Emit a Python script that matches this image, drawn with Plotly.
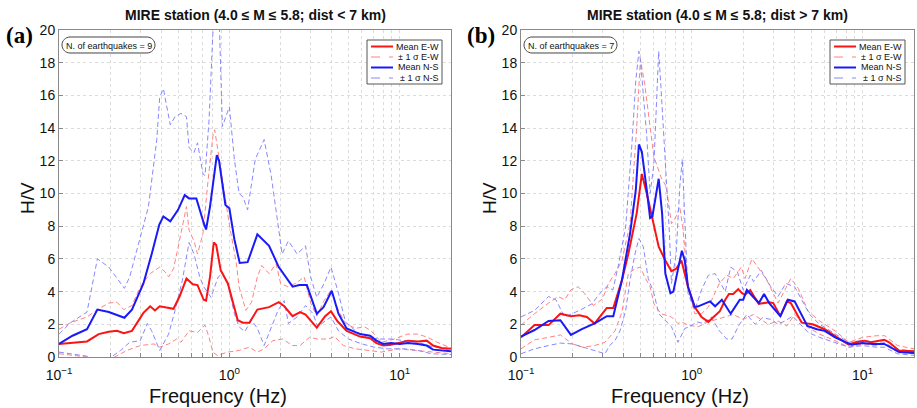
import plotly.graph_objects as go

W, H = 917, 408

# ---------------- data: panel (a) dist < 7 km ----------------
a_ew_mean_f = [0.1, 0.146, 0.171, 0.196, 0.219, 0.24, 0.268, 0.313, 0.343, 0.366, 0.39, 0.42, 0.47, 0.51, 0.56, 0.61, 0.65, 0.707, 0.73, 0.77, 0.81, 0.837, 0.89, 0.98, 1.05, 1.12, 1.2, 1.31, 1.46, 1.71, 1.95, 2.1, 2.35, 2.6, 2.8, 3.26, 3.65, 3.95, 4.3, 4.88, 5.85, 6.7, 7.3, 8.0, 8.9, 10, 11.2, 12.8, 14.4, 15.7, 17.6, 20]
a_ew_mean_v = [0.8, 0.95, 1.4, 1.55, 1.6, 1.45, 1.6, 2.7, 3.1, 2.85, 3.1, 3.05, 2.95, 3.7, 4.8, 4.45, 4.4, 3.5, 3.45, 4.9, 7.0, 6.85, 5.3, 4.5, 3.3, 2.25, 2.1, 2.1, 2.9, 3.05, 3.35, 3.1, 2.5, 2.75, 2.6, 1.8, 2.5, 2.8, 2.2, 1.6, 1.25, 1.15, 0.85, 0.7, 0.75, 0.9, 1.0, 0.95, 1.0, 0.7, 0.55, 0.5]

a_ns_mean_f = [0.1, 0.12, 0.146, 0.168, 0.196, 0.242, 0.268, 0.313, 0.35, 0.388, 0.41, 0.45, 0.5, 0.547, 0.58, 0.64, 0.707, 0.73, 0.77, 0.844, 0.87, 0.948, 1.0, 1.07, 1.15, 1.28, 1.46, 1.71, 1.95, 2.13, 2.35, 2.58, 2.85, 3.26, 3.57, 3.99, 4.37, 4.88, 5.85, 6.7, 7.3, 8.0, 8.9, 10, 11.2, 12.8, 14.4, 15.7, 17.6, 20]
a_ns_mean_v = [0.8, 1.3, 1.7, 2.9, 2.75, 2.4, 2.9, 4.5, 6.3, 8.1, 8.6, 8.3, 9.0, 9.9, 9.7, 9.7, 8.2, 7.8, 9.2, 12.35, 12.0, 9.3, 9.1, 7.2, 5.75, 5.8, 7.5, 6.8, 5.5, 4.9, 4.3, 4.4, 4.4, 2.65, 3.05, 4.05, 2.65, 1.75, 1.4, 1.3, 1.0, 0.8, 0.85, 0.8, 0.85, 0.8, 0.7, 0.45, 0.4, 0.35]

a_ew_up_f = [0.1, 0.117, 0.146, 0.171, 0.196, 0.219, 0.24, 0.268, 0.3, 0.343, 0.39, 0.42, 0.44, 0.47, 0.5, 0.547, 0.56, 0.58, 0.62, 0.65, 0.7, 0.75, 0.8, 0.82, 0.85, 0.91, 1.0, 1.1, 1.14, 1.25, 1.35, 1.46, 1.55, 1.71, 1.88, 2.0, 2.2, 2.45, 2.75, 3.0, 3.26, 3.6, 3.95, 4.37, 4.8, 5.5, 6.2, 6.8, 7.8, 9.3, 11.1, 12.8, 14.6, 16.6, 20]
a_ew_up_v = [1.7, 2.1, 2.45, 2.95, 3.3, 3.35, 2.9, 3.15, 4.3, 5.1, 5.5, 5.2, 4.9, 5.4, 6.7, 8.8, 9.2, 7.75, 7.1, 6.3, 7.55, 10.8, 13.5, 13.9, 12.8, 10.8, 8.1, 5.7, 4.3, 2.85, 3.35, 4.9, 5.6, 5.1, 5.7, 4.5, 4.3, 4.5, 4.9, 3.3, 2.5, 3.45, 4.1, 2.85, 2.05, 1.75, 1.85, 1.6, 0.9, 1.1, 1.4, 1.4, 1.2, 0.9, 0.55]

a_ew_lo_f = [0.1, 0.146, 0.175, 0.2, 0.25, 0.3, 0.36, 0.39, 0.44, 0.49, 0.52, 0.58, 0.65, 0.72, 0.76, 0.8, 0.85, 0.98, 1.14, 1.31, 1.46, 1.6, 1.8, 2.05, 2.35, 2.6, 2.95, 3.3, 3.8, 4.15, 4.67, 5.5, 6.6, 7.8, 9.8, 12.2, 15.3, 20]
a_ew_lo_v = [0.2, 0.0, -0.2, -0.15, 0.4, 0.7, 0.8, 0.6, 0.8, 1.1, 0.9, 1.6, 1.5, 1.95, 1.2, 0.3, 0.1, 0.3, 0.4, 0.6, 0.3, 0.5, 1.0, 1.1, 0.7, 0.7, 1.2, 1.1, 1.1, 1.25, 0.7, 0.5, 0.4, 0.3, 0.5, 0.4, 0.3, 0.2]

a_ns_up_f = [0.1, 0.117, 0.146, 0.168, 0.196, 0.242, 0.26, 0.29, 0.335, 0.375, 0.39, 0.41, 0.45, 0.48, 0.52, 0.56, 0.58, 0.62, 0.65, 0.7, 0.72, 0.76, 0.8, 0.83, 0.87, 0.91, 0.95, 1.0, 1.07, 1.14, 1.2, 1.28, 1.42, 1.6, 1.76, 1.93, 2.04, 2.22, 2.5, 2.8, 3.0, 3.26, 3.6, 3.95, 4.37, 4.8, 5.5, 6.4, 7.5, 8.9, 10.6, 12.8, 15.3, 20]
a_ns_up_v = [1.4, 2.1, 2.75, 6.0, 5.5, 4.2, 4.9, 6.7, 9.2, 13.3, 15.9, 16.4, 14.2, 14.7, 14.9, 14.7, 12.8, 12.5, 13.1, 11.2, 11.1, 14.5, 19.8, 21.0, 21.0, 14.1, 14.7, 15.3, 12.1, 10.0, 9.8, 9.0, 12.1, 13.3, 11.1, 8.0, 6.3, 7.1, 6.3, 6.8, 4.9, 3.65, 4.5, 5.5, 3.9, 2.15, 1.6, 1.2, 1.1, 1.1, 1.0, 0.9, 0.65, 0.45]

a_ns_lo_f = [0.1, 0.117, 0.146, 0.168, 0.196, 0.23, 0.26, 0.3, 0.33, 0.35, 0.39, 0.44, 0.48, 0.53, 0.58, 0.62, 0.67, 0.707, 0.78, 0.86, 0.91, 0.98, 1.07, 1.14, 1.23, 1.35, 1.46, 1.6, 1.76, 1.93, 2.1, 2.22, 2.5, 2.8, 3.1, 3.3, 3.6, 3.95, 4.37, 5.0, 6.0, 7.1, 8.5, 10.6, 12.8, 15.3, 20]
a_ns_lo_v = [0.3, 0.2, 0.05, -0.2, -0.1, 0.4, 0.9, 1.0, 2.05, 1.6, 0.4, 1.4, 2.85, 4.7, 7.0, 6.3, 4.9, 4.3, 3.65, 4.9, 5.1, 4.5, 2.65, 1.85, 1.55, 2.25, 1.75, 0.7, 1.85, 2.85, 3.45, 2.05, 2.45, 3.15, 2.65, 1.85, 2.15, 2.45, 1.6, 1.1, 0.8, 0.6, 0.5, 0.5, 0.4, 0.2, 0.15]

# ---------------- data: panel (b) dist > 7 km ----------------
b_ew_mean_f = [0.1, 0.12, 0.145, 0.17, 0.196, 0.22, 0.243, 0.27, 0.318, 0.347, 0.39, 0.425, 0.476, 0.51, 0.545, 0.588, 0.64, 0.7, 0.76, 0.81, 0.87, 0.95, 1.04, 1.14, 1.25, 1.46, 1.57, 1.65, 1.75, 1.87, 1.97, 2.05, 2.2, 2.35, 2.47, 2.84, 3.0, 3.3, 3.6, 3.8, 4.4, 5.1, 6.0, 7.1, 8.3, 9.1, 10.2, 11.2, 12.3, 13.4, 14.3, 16.3, 20]
b_ew_mean_v = [1.2, 1.95, 1.95, 2.65, 2.5, 2.55, 2.45, 2.05, 3.0, 3.0, 4.7, 6.3, 8.8, 11.2, 10.0, 8.4, 6.75, 5.9, 5.25, 5.4, 5.9, 4.3, 3.05, 2.45, 2.15, 2.8, 3.5, 3.85, 3.85, 4.15, 3.9, 3.8, 4.1, 3.6, 3.25, 3.35, 3.3, 2.5, 3.4, 3.3, 2.1, 2.0, 1.7, 1.2, 0.75, 0.9, 1.0, 0.9, 1.0, 1.05, 0.9, 0.4, 0.35]

b_ns_mean_f = [0.1, 0.12, 0.145, 0.17, 0.196, 0.227, 0.27, 0.318, 0.347, 0.39, 0.435, 0.47, 0.49, 0.51, 0.545, 0.57, 0.588, 0.64, 0.67, 0.7, 0.75, 0.78, 0.835, 0.875, 0.91, 0.95, 1.04, 1.09, 1.28, 1.37, 1.5, 1.69, 1.91, 2.0, 2.1, 2.47, 2.65, 2.84, 3.3, 3.65, 4.0, 4.5, 4.75, 5.4, 6.0, 6.9, 7.9, 8.6, 10, 11.4, 13.4, 15, 16.4, 20]
b_ns_mean_v = [1.25, 1.65, 2.2, 2.25, 1.35, 1.7, 2.05, 2.5, 2.5, 4.7, 7.55, 10.2, 13.0, 12.55, 10.2, 8.5, 8.6, 10.9, 8.8, 5.1, 3.9, 4.0, 5.5, 6.5, 5.9, 4.3, 3.05, 3.1, 3.4, 3.1, 3.5, 2.65, 3.5, 3.5, 4.1, 3.3, 3.85, 3.3, 2.5, 3.5, 3.4, 2.3, 1.9, 1.7, 1.6, 1.2, 0.9, 0.75, 0.85, 0.8, 0.8, 0.5, 0.3, 0.25]

b_ew_up_f = [0.1, 0.12, 0.145, 0.165, 0.18, 0.196, 0.216, 0.235, 0.265, 0.3, 0.325, 0.355, 0.39, 0.435, 0.476, 0.5, 0.53, 0.57, 0.6, 0.66, 0.71, 0.76, 0.81, 0.85, 0.89, 0.95, 1.04, 1.14, 1.25, 1.45, 1.6, 1.75, 1.95, 2.05, 2.25, 2.55, 2.75, 3.2, 3.8, 4.2, 4.8, 5.6, 6.9, 8.3, 10, 12, 13.5, 16, 20]
b_ew_up_v = [1.95, 2.65, 3.3, 3.7, 3.5, 4.1, 4.3, 3.9, 3.15, 3.55, 4.5, 5.1, 5.9, 8.15, 14.1, 18.2, 16.7, 13.9, 12.25, 11.0, 10.4, 8.15, 8.6, 9.2, 7.75, 4.3, 2.65, 2.65, 3.05, 4.5, 5.0, 4.8, 5.5, 4.8, 6.0, 5.2, 4.7, 3.3, 4.8, 4.2, 2.8, 2.2, 1.6, 0.9, 1.2, 1.3, 1.3, 0.7, 0.5]

b_ew_lo_f = [0.1, 0.12, 0.145, 0.17, 0.2, 0.23, 0.27, 0.31, 0.355, 0.39, 0.425, 0.465, 0.5, 0.53, 0.57, 0.6, 0.66, 0.76, 0.83, 0.87, 0.95, 1.09, 1.25, 1.5, 1.75, 2.0, 2.3, 2.8, 3.2, 3.6, 4.0, 4.8, 5.6, 6.9, 8.3, 10, 12, 13.4, 16, 20]
b_ew_lo_v = [0.5, 1.05, 1.2, 1.35, 0.8, 0.6, 0.7, 0.9, 1.6, 2.75, 5.1, 5.4, 5.5, 4.9, 4.3, 3.25, 2.65, 2.45, 2.05, 2.15, 1.95, 1.85, 2.15, 2.4, 2.6, 2.3, 2.6, 2.0, 2.2, 1.9, 2.6, 1.8, 1.4, 1.0, 0.6, 0.8, 0.7, 0.8, 0.3, 0.2]

b_ns_up_f = [0.1, 0.12, 0.145, 0.16, 0.18, 0.2, 0.22, 0.26, 0.29, 0.318, 0.345, 0.37, 0.41, 0.445, 0.47, 0.49, 0.5, 0.545, 0.57, 0.6, 0.62, 0.64, 0.66, 0.7, 0.74, 0.76, 0.81, 0.85, 0.88, 0.91, 0.95, 1.04, 1.14, 1.25, 1.37, 1.57, 1.69, 1.85, 2.0, 2.2, 2.3, 2.55, 2.9, 3.2, 3.55, 4.0, 4.9, 5.6, 6.9, 8.3, 10, 11.9, 13.4, 15.5, 20]
b_ns_up_v = [2.45, 2.85, 3.7, 3.5, 2.45, 2.65, 2.85, 3.25, 3.9, 4.3, 4.1, 5.5, 7.95, 12.85, 16.9, 18.7, 18.2, 13.5, 10.0, 11.8, 15.9, 18.7, 16.5, 12.0, 7.55, 4.5, 6.3, 10.4, 12.1, 8.4, 3.9, 2.85, 4.1, 5.0, 5.1, 4.0, 5.5, 5.2, 4.1, 5.0, 4.6, 5.3, 4.3, 3.7, 4.5, 4.3, 2.6, 2.0, 1.4, 0.9, 1.0, 0.95, 0.9, 0.5, 0.35]

b_ns_lo_f = [0.1, 0.12, 0.145, 0.17, 0.2, 0.25, 0.29, 0.31, 0.33, 0.355, 0.38, 0.41, 0.435, 0.465, 0.49, 0.52, 0.556, 0.6, 0.64, 0.7, 0.76, 0.83, 0.87, 0.91, 0.97, 1.07, 1.17, 1.3, 1.45, 1.6, 1.72, 1.9, 2.1, 2.35, 2.6, 2.9, 3.2, 3.5, 3.9, 4.8, 5.6, 6.9, 8.3, 10, 12, 13.4, 16, 20]
b_ns_lo_v = [0.2, 0.5, 0.7, 0.85, 0.8, 0.5, 0.3, 0.2, 0.7, 1.0, 1.6, 2.85, 4.7, 6.3, 7.25, 6.75, 4.8, 3.9, 2.65, 2.25, 1.85, 0.9, 1.3, 1.75, 1.85, 2.15, 2.05, 2.45, 1.6, 1.1, 1.1, 2.0, 2.6, 2.0, 2.4, 2.3, 2.0, 2.2, 2.5, 1.5, 1.2, 0.9, 0.6, 0.7, 0.6, 0.6, 0.2, 0.1]

titles = ["MIRE station (4.0 \u2264 M \u2264 5.8; dist < 7 km)",
          "MIRE station (4.0 \u2264 M \u2264 5.8; dist > 7 km)"]
panel_tags = ["(a)", "(b)"]
n_quakes = [9, 7]
legend_names = ["Mean E-W", "\u00b1 1 \u03c3 E-W", "Mean N-S", "\u00b1 1 \u03c3 N-S"]

x_tickvals = [0.1, 0.2, 0.3, 0.4, 0.5, 0.6, 0.7, 0.8, 0.9, 1, 2, 3, 4, 5, 6, 7, 8, 9, 10, 20]
x_ticktext = ["10<sup>\u22121</sup>"] + [""] * 8 + ["10<sup>0</sup>"] + [""] * 8 + ["10<sup>1</sup>", ""]
y_tickvals = [0, 2, 4, 6, 8, 10, 12, 14, 16, 18, 20]

# ---------------- styling ----------------
RED = "rgb(250,20,20)"
BLUE = "rgb(25,25,250)"
RED_L = "rgb(255,130,130)"
BLUE_L = "rgb(135,135,255)"
FONT = "Liberation Sans, Arial, Helvetica, sans-serif"

def px(x):
    return x / W

def py(y):
    return 1 - y / H

panels = [
    dict(x0=59, x1=451, xa="x", ya="y",
         ew=(a_ew_mean_f, a_ew_mean_v), ns=(a_ns_mean_f, a_ns_mean_v),
         ewu=(a_ew_up_f, a_ew_up_v), ewl=(a_ew_lo_f, a_ew_lo_v),
         nsu=(a_ns_up_f, a_ns_up_v), nsl=(a_ns_lo_f, a_ns_lo_v)),
    dict(x0=521, x1=914, xa="x2", ya="y2",
         ew=(b_ew_mean_f, b_ew_mean_v), ns=(b_ns_mean_f, b_ns_mean_v),
         ewu=(b_ew_up_f, b_ew_up_v), ewl=(b_ew_lo_f, b_ew_lo_v),
         nsu=(b_ns_up_f, b_ns_up_v), nsl=(b_ns_lo_f, b_ns_lo_v)),
]

Y_TOP, Y_BOT = 30, 357

fig = go.Figure()
shapes = []
annotations = []

for i, p in enumerate(panels):
    dash = "5px,3px"
    for key, col in [("ewu", RED_L), ("ewl", RED_L), ("nsu", BLUE_L), ("nsl", BLUE_L)]:
        f, v = p[key]
        fig.add_trace(go.Scatter(x=f, y=v, mode="lines", xaxis=p["xa"], yaxis=p["ya"],
                                 line=dict(color=col, width=1, dash=dash), showlegend=False,
                                 hoverinfo="skip"))
    for key, col in [("ew", RED), ("ns", BLUE)]:
        f, v = p[key]
        fig.add_trace(go.Scatter(x=f, y=v, mode="lines", xaxis=p["xa"], yaxis=p["ya"],
                                 line=dict(color=col, width=2), showlegend=False))

    ax_common = dict(showline=True, mirror=True, linecolor="#8a8a8a", linewidth=1,
                     ticks="inside", ticklen=4, tickcolor="#8a8a8a", automargin=False,
                     showgrid=True, gridcolor="#dcdcdc", griddash="dot", gridwidth=1,
                     zeroline=False, tickfont=dict(family=FONT, size=14, color="#111"))
    xname = "xaxis" if i == 0 else "xaxis2"
    yname = "yaxis" if i == 0 else "yaxis2"
    fig.update_layout(**{
        xname: dict(type="log", range=[-1, 1.30103], domain=[px(p["x0"]), px(p["x1"])],
                    tickmode="array", tickvals=x_tickvals, ticktext=x_ticktext,
                    ticklabelstandoff=5, anchor=p["ya"], **ax_common),
        yname: dict(range=[0, 20], domain=[py(Y_BOT), py(Y_TOP)],
                    tickmode="array", tickvals=y_tickvals,
                    anchor=p["xa"], **ax_common),
    })

    cx = (p["x0"] + p["x1"]) / 2
    # title
    annotations.append(dict(text="<b>" + titles[i] + "</b>", x=px(cx), y=py(15), xref="paper", yref="paper",
                            showarrow=False, xanchor="center", yanchor="middle",
                            font=dict(family=FONT, size=14, color="#111")))
    # panel tag
    annotations.append(dict(text="<b>" + panel_tags[i] + "</b>", x=px(p["x0"] - 40), y=py(35), xref="paper", yref="paper",
                            showarrow=False, xanchor="center", yanchor="middle",
                            font=dict(family="Liberation Serif, Times New Roman, serif", size=23, color="#000")))
    # axis titles
    annotations.append(dict(text="H/V", x=px(p["x0"] - 32), y=py(198), xref="paper", yref="paper",
                            showarrow=False, textangle=-90, xanchor="center", yanchor="middle",
                            font=dict(family=FONT, size=19, color="#111")))
    annotations.append(dict(text="Frequency (Hz)", x=px(p["x0"] + 159), y=py(396), xref="paper", yref="paper",
                            showarrow=False, xanchor="center", yanchor="middle",
                            font=dict(family=FONT, size=20, color="#111")))

    # N. of earthquakes pill
    bx0, bx1, by0, by1 = p["x0"] + 3, p["x0"] + 96, 37, 53
    r = (by1 - by0) / 2
    k = 0.55 * r
    pts = [("M", [(bx0 + r, by0)]), ("L", [(bx1 - r, by0)]),
           ("C", [(bx1 - r + k, by0), (bx1, by0 + r - k), (bx1, by0 + r)]),
           ("C", [(bx1, by0 + r + k), (bx1 - r + k, by1), (bx1 - r, by1)]),
           ("L", [(bx0 + r, by1)]),
           ("C", [(bx0 + r - k, by1), (bx0, by1 - r + k), (bx0, by1 - r)]),
           ("C", [(bx0, by0 + r - k), (bx0 + r - k, by0), (bx0 + r, by0)])]
    path = " ".join(cmd + " " + " ".join(f"{px(a):.5f},{py(b):.5f}" for a, b in cs) for cmd, cs in pts) + " Z"
    shapes.append(dict(type="path", path=path, xref="paper", yref="paper",
                       line=dict(color="#444", width=1), fillcolor="white", layer="above"))
    annotations.append(dict(text=f"N. of earthquakes = {n_quakes[i]}", x=px((bx0 + bx1) / 2), y=py(45.5),
                            xref="paper", yref="paper", showarrow=False, xanchor="center", yanchor="middle",
                            font=dict(family=FONT, size=9, color="#111")))

    # manual legend
    lx0, lx1, ly0, ly1 = p["x1"] - 84, p["x1"] - 9, 40, 84
    shapes.append(dict(type="rect", x0=px(lx0), x1=px(lx1), y0=py(ly1), y1=py(ly0), xref="paper", yref="paper",
                       line=dict(color="#555", width=1), fillcolor="white", layer="above"))
    styles = [(RED, 2, "solid"), (RED_L, 1, "dash"), (BLUE, 2, "solid"), (BLUE_L, 1, "dash")]
    for j, (name, (col, wdt, dsh)) in enumerate(zip(legend_names, styles)):
        yy = 46.5 + j * 10.5
        shapes.append(dict(type="line", x0=px(lx0 + 4), x1=px(lx0 + 26), y0=py(yy), y1=py(yy),
                           xref="paper", yref="paper", line=dict(color=col, width=wdt, dash=dsh), layer="above"))
        annotations.append(dict(text=name, x=px(lx1 - 1), y=py(yy), xref="paper", yref="paper",
                                showarrow=False, xanchor="right", yanchor="middle",
                                font=dict(family=FONT, size=9, color="#111")))

fig.update_layout(width=W, height=H, margin=dict(l=0, r=0, t=0, b=0),
                  paper_bgcolor="white", plot_bgcolor="white", showlegend=False,
                  shapes=shapes, annotations=annotations)

fig.write_html("out.html")
